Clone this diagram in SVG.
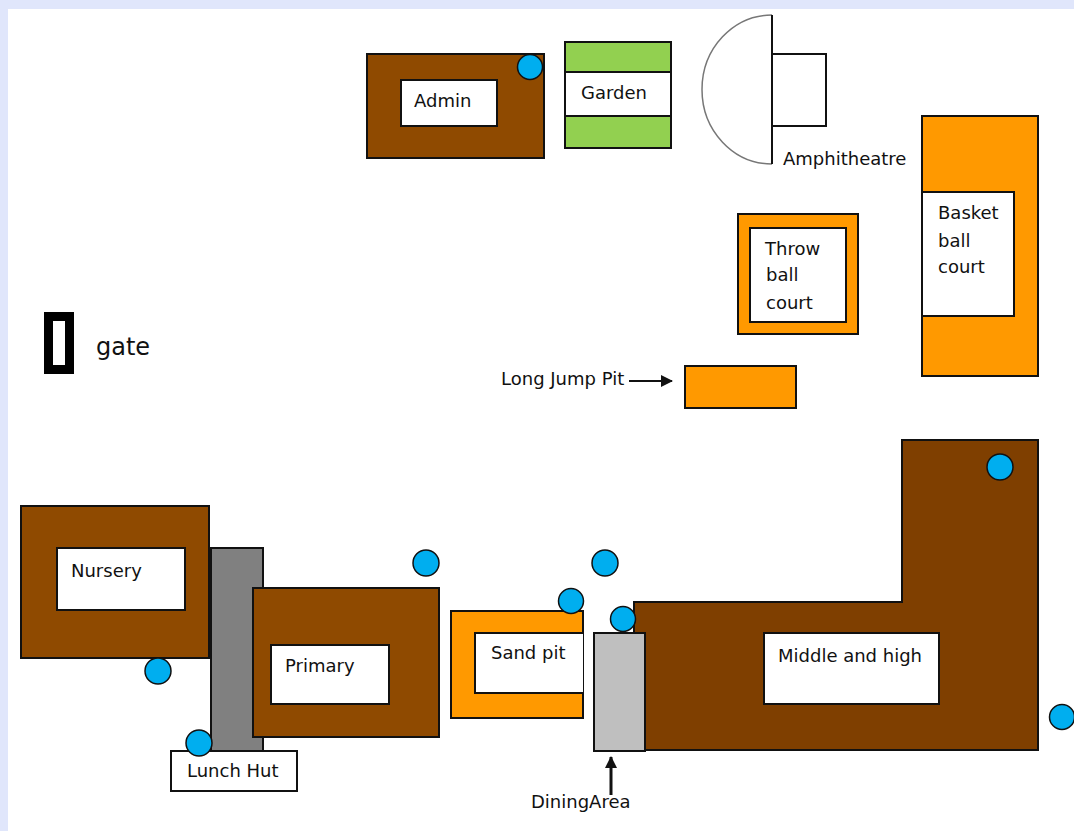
<svg xmlns="http://www.w3.org/2000/svg" width="1074" height="831" viewBox="0 0 1074 831">
<style>
.s{stroke:#111;stroke-width:2}
.w{fill:#fff}.b{fill:#8f4a00}.d{fill:#7f3f00}.o{fill:#ff9900}.g{fill:#92d050}
.c{fill:#00aeef;stroke:#111;stroke-width:1.5}
text{font-family:"DejaVu Sans",sans-serif;font-size:18px;fill:#111}
</style>
<defs><marker id="a" markerWidth="12" markerHeight="12" refX="11" refY="6" orient="auto" markerUnits="userSpaceOnUse"><path d="M0 0L12 6L0 12Z" fill="#111"/></marker></defs>
<rect width="1074" height="831" fill="#e0e6fb"/>
<rect x="8" y="9" width="1066" height="822" fill="#fff"/>

<g id="admin"><rect class="s b" x="367" y="54" width="177" height="104"/><rect class="s w" x="401" y="80" width="96" height="46"/><text x="414" y="107">Admin</text></g>
<g id="admin-dot"><circle class="c" cx="530" cy="67" r="12.5"/></g>
<g id="garden"><rect class="s g" x="565" y="42" width="106" height="106"/><rect class="s w" x="565" y="72" width="106" height="44"/><text x="581" y="99">Garden</text></g>
<g id="amphitheatre"><path d="M772 15A70 74.500 0 0 0 772 164" fill="#fff" stroke="#777" stroke-width="1.500"/><path class="s" fill="none" d="M772 15V164"/><rect class="s w" x="772" y="54" width="54" height="72"/><text x="783" y="165">Amphitheatre</text></g>
<g id="basketball"><rect class="s o" x="922" y="116" width="116" height="260"/><rect class="s w" x="922" y="192" width="92" height="124"/><text x="938" y="219">Basket</text><text x="938" y="247">ball</text><text x="938" y="273">court</text></g>
<g id="throwball"><rect class="s o" x="738" y="214" width="120" height="120"/><rect class="s w" x="750" y="228" width="96" height="94"/><text x="765" y="255">Throw</text><text x="766" y="281">ball</text><text x="766" y="309">court</text></g>
<g id="gate"><rect x="44" y="312" width="30" height="62" fill="#000"/><rect x="53" y="321" width="12" height="44" fill="#fff"/><text x="96" y="355" style="font-size:24px">gate</text></g>
<g id="longjump"><rect class="s o" x="685" y="366" width="111" height="42"/><text x="501" y="385">Long Jump Pit</text></g>
<g id="lunchhut"><rect class="s" fill="#808080" x="211" y="548" width="52" height="204"/><rect class="s w" x="171" y="751" width="126" height="40"/><text x="187" y="777">Lunch Hut</text></g>
<g id="nursery"><rect class="s b" x="21" y="506" width="188" height="152"/><rect class="s w" x="57" y="548" width="128" height="62"/><text x="71" y="577">Nursery</text></g>
<g id="primary"><rect class="s b" x="253" y="588" width="186" height="149"/><rect class="s w" x="271" y="645" width="118" height="59"/><text x="285" y="672">Primary</text></g>
<g id="sandpit"><rect class="s o" x="451" y="611" width="132" height="107"/><path class="s w" d="M583 633H475V693H583"/><text x="491" y="659">Sand pit</text></g>
<g id="middle-high"><path class="s d" d="M634 602H902V440H1038V750H634Z"/><rect class="s w" x="764" y="633" width="175" height="71"/><text x="778" y="662">Middle and high</text></g>
<g id="dining"><rect class="s" fill="#bfbfbf" x="594" y="633" width="51" height="118"/><text x="531" y="808">DiningArea</text></g>
<g id="dots"><circle class="c" cx="158" cy="671" r="13"/><circle class="c" cx="199" cy="743" r="13"/><circle class="c" cx="426" cy="563" r="13"/><circle class="c" cx="571" cy="601" r="12.500"/><circle class="c" cx="605" cy="563" r="13"/><circle class="c" cx="623" cy="619" r="12.500"/><circle class="c" cx="1000" cy="467" r="13"/><circle class="c" cx="1062" cy="717" r="12.500"/></g>
<g id="connectors"><path d="M629 381H672" stroke="#111" stroke-width="2" marker-end="url(#a)"/><path d="M611 795V757" stroke="#111" stroke-width="3" marker-end="url(#a)"/></g>
</svg>
